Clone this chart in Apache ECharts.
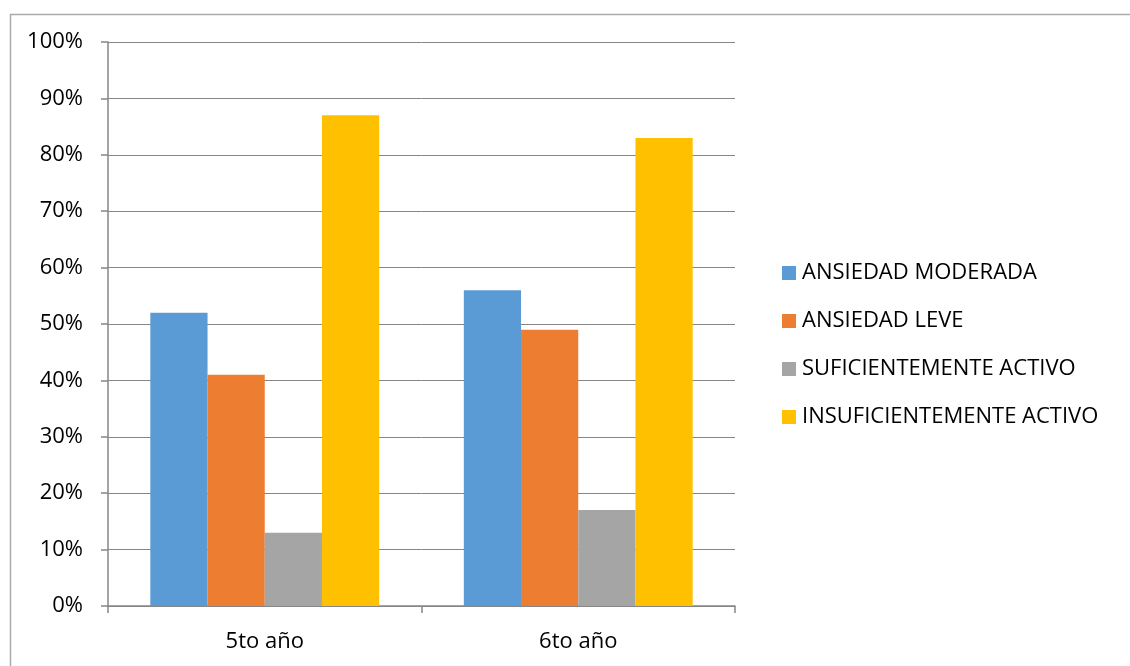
<!DOCTYPE html>
<html>
<head>
<meta charset="utf-8">
<script src="https://cdn.jsdelivr.net/npm/echarts@6/dist/echarts.min.js"></script>
<style>
  html, body { margin: 0; padding: 0; background: #fff; }
  #chart { width: 1130px; height: 666px; }
</style>
</head>
<body>
<div id="chart"></div>
<script>
// Grade levels on the category axis
const categories = ['5to año', '6to año'];

// Percentages per group
const ansiedadModerada = [52, 56];
const ansiedadLeve = [41, 49];
const suficientementeActivo = [13, 17];
const insuficientementeActivo = [87, 83];

const seriesNames = ['ANSIEDAD MODERADA', 'ANSIEDAD LEVE', 'SUFICIENTEMENTE ACTIVO', 'INSUFICIENTEMENTE ACTIVO'];
const seriesData = [ansiedadModerada, ansiedadLeve, suficientementeActivo, insuficientementeActivo];
const colors = ['#5B9BD5', '#ED7D31', '#A5A5A5', '#FFC000'];

const fontFamily = '"Open Sans", "Liberation Sans", sans-serif';
const axisGray = '#868686';

const chart = echarts.init(document.getElementById('chart'), null, { renderer: 'canvas' });

chart.setOption({
  animation: false,
  color: colors,
  textStyle: { fontFamily: fontFamily },
  graphic: [{
    type: 'rect',
    left: 8, top: 12,
    shape: { width: 1200, height: 700 },
    style: { fill: 'none', stroke: '#ABABAB', lineWidth: 1.5 },
    silent: true
  }],
  grid: { left: 108, top: 42, width: 627, height: 564, containLabel: false },
  legend: {
    orient: 'vertical',
    left: 777, top: 257,
    itemWidth: 14, itemHeight: 14, itemGap: 26,
    icon: 'rect',
    textStyle: { fontSize: 22, lineHeight: 22, color: '#000', fontFamily: fontFamily, padding: [0, 0, 0, 1] },
    data: seriesNames
  },
  xAxis: {
    type: 'category',
    data: categories,
    axisLine: { lineStyle: { color: axisGray, width: 1.5 } },
    axisTick: { show: true, alignWithLabel: false, length: 7, lineStyle: { color: axisGray, width: 1.5 } },
    axisLabel: { color: '#000', fontSize: 22, margin: 25, fontFamily: fontFamily }
  },
  yAxis: {
    type: 'value',
    min: 0, max: 100, interval: 10,
    axisLine: { show: true, lineStyle: { color: axisGray, width: 1.5 } },
    axisTick: { show: true, length: 7, lineStyle: { color: axisGray, width: 1.5 } },
    axisLabel: { color: '#000', fontSize: 22, margin: 25, fontFamily: fontFamily, formatter: '{value}%' },
    splitLine: { show: true, lineStyle: { color: axisGray, width: 1 } }
  },
  series: seriesNames.map((name, i) => ({
    name: name,
    type: 'bar',
    data: seriesData[i],
    barGap: '0%',
    barCategoryGap: '27%',
    itemStyle: { color: colors[i] }
  }))
});
</script>
</body>
</html>
